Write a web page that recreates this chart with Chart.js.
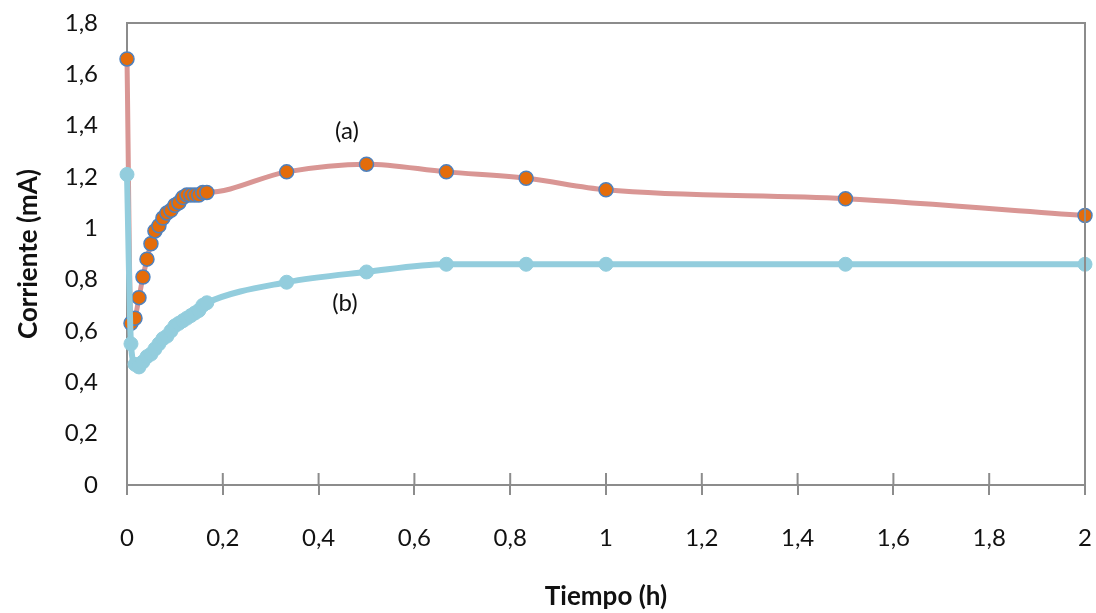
<!DOCTYPE html>
<html>
<head>
<meta charset="utf-8">
<script src="https://cdn.jsdelivr.net/npm/chart.js@4"></script>
<style>
  html, body { margin: 0; padding: 0; background: #fff; }
  #wrap { width: 1096px; height: 613px; }
</style>
</head>
<body>
<div id="wrap"><canvas id="myChart"></canvas></div>
<script>
// tiempo (h)
const tiempo = [0, 0.0083, 0.0167, 0.025, 0.0333, 0.0417, 0.05, 0.0583, 0.0667, 0.075, 0.0833,
  0.0917, 0.1, 0.1083, 0.1167, 0.125, 0.1333, 0.1417, 0.15, 0.1583, 0.1667,
  0.3333, 0.5, 0.6667, 0.8333, 1, 1.5, 2];
// corriente (mA)
const serieA = [1.66, 0.63, 0.65, 0.73, 0.81, 0.88, 0.94, 0.99, 1.01, 1.04, 1.06,
  1.07, 1.09, 1.10, 1.12, 1.13, 1.13, 1.13, 1.13, 1.14, 1.14,
  1.22, 1.25, 1.22, 1.195, 1.15, 1.115, 1.05];
const serieB = [1.21, 0.55, 0.47, 0.46, 0.48, 0.50, 0.51, 0.53, 0.55, 0.57, 0.58,
  0.60, 0.62, 0.63, 0.64, 0.65, 0.66, 0.67, 0.68, 0.70, 0.71,
  0.79, 0.83, 0.86, 0.86, 0.86, 0.86, 0.86];

const xTickLabels = ['0', '0,2', '0,4', '0,6', '0,8', '1', '1,2', '1,4', '1,6', '1,8', '2'];
const yTickLabels = ['0', '0,2', '0,4', '0,6', '0,8', '1', '1,2', '1,4', '1,6', '1,8'];

const etiquetas = [
  { text: '(a)', x: 0.459, y: 1.38 },
  { text: '(b)', x: 0.455, y: 0.71 }
];

const FONT = 'Lato, "Open Sans", sans-serif';

function toPts(xs, ys) {
  return xs.map((x, i) => ({ x: x, y: ys[i] }));
}

// caja del grafico + marcas cruzadas en el eje x + etiquetas (a) (b)
const extras = {
  id: 'extras',
  afterDraw(chart) {
    const ctx = chart.ctx;
    const a = chart.chartArea;
    const xs = chart.scales.x, ys = chart.scales.y;
    ctx.save();
    ctx.strokeStyle = '#8c8c8c';
    ctx.lineWidth = 2;
    ctx.beginPath();
    ctx.moveTo(a.left, a.top);
    ctx.lineTo(a.right, a.top);
    ctx.lineTo(a.right, a.bottom);
    ctx.stroke();
    ctx.beginPath();
    xs.ticks.forEach(t => {
      const px = xs.getPixelForValue(t.value);
      ctx.moveTo(px, a.bottom - 12);
      ctx.lineTo(px, a.bottom);
    });
    ctx.stroke();
    ctx.fillStyle = '#111';
    ctx.font = '24px ' + FONT;
    ctx.textAlign = 'center';
    ctx.textBaseline = 'middle';
    etiquetas.forEach(e => {
      ctx.fillText(e.text, xs.getPixelForValue(e.x), ys.getPixelForValue(e.y));
    });
    ctx.restore();
  }
};

const ctx = document.getElementById('myChart').getContext('2d');

new Chart(ctx, {
  type: 'scatter',
  data: {
    datasets: [
      {
        label: '(b)',
        data: toPts(tiempo, serieB),
        showLine: true,
        borderColor: '#93cddd',
        borderWidth: 6,
        backgroundColor: '#93cddd',
        pointBorderColor: '#93cddd',
        pointRadius: 7,
        pointBorderWidth: 1,
        cubicInterpolationMode: 'monotone',
        clip: false
      },
      {
        label: '(a)',
        data: toPts(tiempo, serieA),
        showLine: true,
        borderColor: '#d99694',
        borderWidth: 5,
        backgroundColor: '#e46c0a',
        pointBorderColor: '#4f81bd',
        pointRadius: 7,
        pointBorderWidth: 1.5,
        cubicInterpolationMode: 'monotone',
        clip: false
      }
    ]
  },
  options: {
    responsive: true,
    maintainAspectRatio: false,
    animation: false,
    layout: { autoPadding: false, padding: { top: 23, right: 11, left: 0, bottom: 0 } },
    plugins: {
      legend: { display: false },
      tooltip: { enabled: false }
    },
    scales: {
      x: {
        type: 'linear',
        min: 0,
        max: 2,
        afterFit(scale) {
          scale.height = 128;
          scale.paddingLeft = 0;
          scale.paddingRight = 0;
        },
        afterBuildTicks(scale) {
          scale.ticks = xTickLabels.map((l, i) => ({ value: i * 0.2 }));
        },
        ticks: {
          autoSkip: false,
          maxRotation: 0,
          padding: 29,
          color: '#111',
          font: { family: FONT, size: 24 },
          callback: (v, i) => xTickLabels[i]
        },
        grid: {
          display: true,
          drawOnChartArea: false,
          drawTicks: true,
          tickLength: 10,
          color: '#8c8c8c',
          lineWidth: 2
        },
        border: { display: true, color: '#8c8c8c', width: 2 },
        title: {
          display: true,
          text: 'Tiempo (h)',
          color: '#111',
          font: { family: FONT, size: 26, weight: 'bold' },
          padding: { top: 0, bottom: 1 }
        }
      },
      y: {
        type: 'linear',
        min: 0,
        max: 1.8,
        afterFit(scale) {
          scale.width = 127;
          scale.paddingTop = 0;
          scale.paddingBottom = 0;
        },
        afterBuildTicks(scale) {
          scale.ticks = yTickLabels.map((l, i) => ({ value: i * 0.2 }));
        },
        ticks: {
          autoSkip: false,
          padding: 29,
          color: '#111',
          font: { family: FONT, size: 24 },
          callback: (v, i) => yTickLabels[i]
        },
        grid: { display: false, drawTicks: false },
        border: { display: true, color: '#8c8c8c', width: 2 },
        title: {
          display: true,
          text: 'Corriente (mA)',
          color: '#111',
          font: { family: FONT, size: 26, weight: 'bold' },
          padding: { top: 13, bottom: 0 }
        }
      }
    }
  },
  plugins: [extras]
});
</script>
</body>
</html>
